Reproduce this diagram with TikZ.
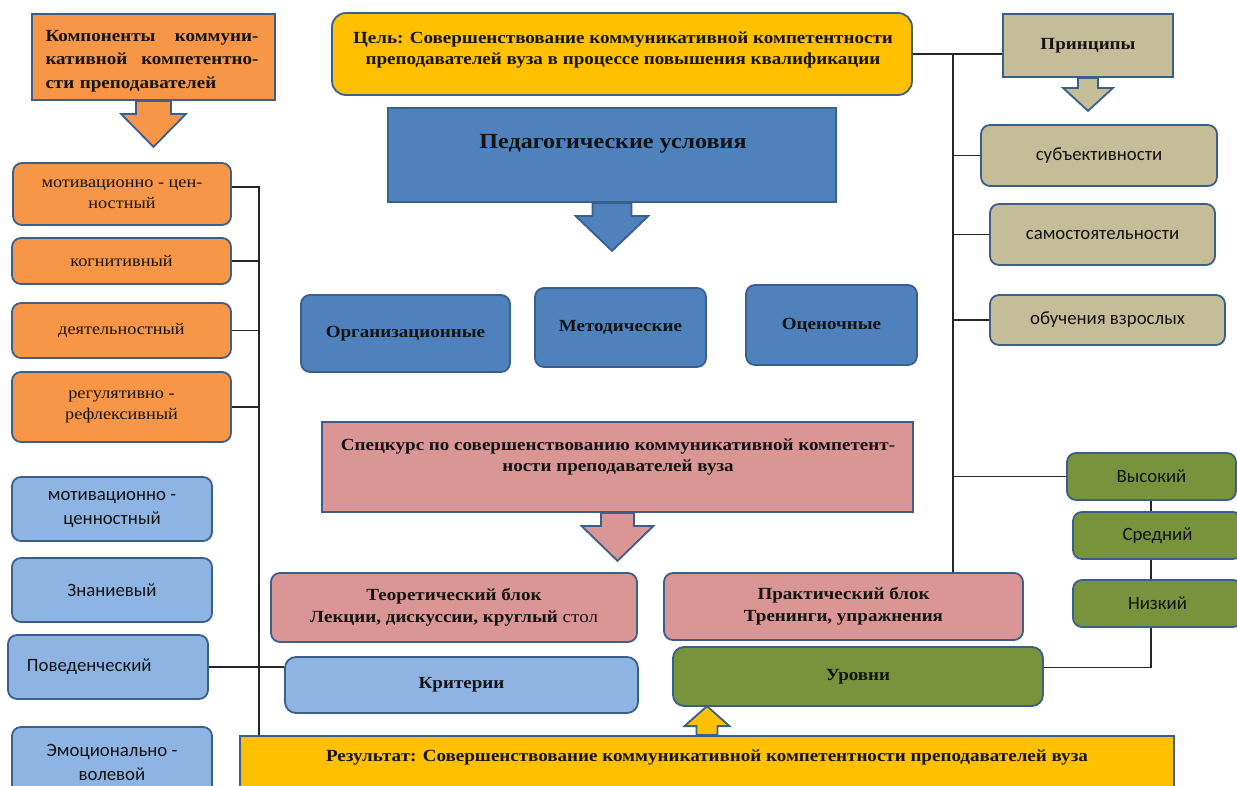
\documentclass[tikz,border=0pt]{standalone}
\usepackage{fontspec}
\setmainfont{Liberation Serif}[FakeStretch=1.12]
\newfontfamily\calib{Carlito}
\usetikzlibrary{calc,backgrounds}
\definecolor{orangeF}{HTML}{F79646}
\definecolor{goldF}{HTML}{FFC000}
\definecolor{blueD}{HTML}{4F81BD}
\definecolor{blueL}{HTML}{8EB4E3}
\definecolor{tanF}{HTML}{C4BD97}
\definecolor{pinkF}{HTML}{D99694}
\definecolor{greenF}{HTML}{77933C}
\definecolor{bordC}{HTML}{3A5F8C}
\definecolor{txtC}{HTML}{141414}
\definecolor{lineC}{HTML}{262626}
\newcommand\blkarrow[6]{%
  \path[fill=#6, draw=bordC, line width=1.8pt, line join=miter]
  ($(#1)+(-#2,0)$) -- ++(0,#4) -- ++({#2-#3},0) -- ++(#3,#5) -- ++(#3,{-1*(#5)}) -- ++({#2-#3},0) -- ++(0,{-1*(#4)}) -- cycle;}
\begin{document}
\begin{tikzpicture}[x=1pt,y=-1pt,
  box/.style={draw=bordC, line width=1.8pt, inner sep=0pt, anchor=center, text=txtC, align=center},
  rbox/.style={box, rounded corners=9pt},
  serb/.style={font=\bfseries\fontsize{17}{21.5}\selectfont},
  serr/.style={font=\fontsize{16.3}{20.5}\selectfont},
  sans/.style={font=\calib\fontsize{18.8}{24}\selectfont},
  conn/.style={draw=lineC, line width=1.1pt}]
\useasboundingbox (0,0) rectangle (1237,785);
\clip (0,0) rectangle (1237,785);

% top row
\node[box, fill=orangeF, minimum width=243pt, minimum height=86pt] (comp) at (153.5,57) {};
\node[text=txtC, align=left, text width=213pt, font=\bfseries\fontsize{17}{23.3}\selectfont] (compT) at (152,61)
  {\makebox[213pt][l]{Компоненты\hfill коммуни-}\\\makebox[213pt][l]{кативной\hfill компетентно-}\\сти преподавателей};
\node[rbox, rounded corners=14pt, fill=goldF, minimum width=580pt, minimum height=82pt] (goal) at (622,54) {};
\node[serb, text=txtC, align=center] (goalT) at (623,50)
  {Цель: Совершенствование коммуникативной компетентности\\преподавателей вуза в процессе повышения квалификации};
\node[box, fill=blueD, minimum width=448pt, minimum height=94pt] (ped) at (612,155) {};
\node[text=txtC, font=\bfseries\fontsize{21.5}{24}\selectfont] (pedT) at (613,144) {Педагогические условия};
\node[box, fill=tanF, minimum width=170pt, minimum height=63pt, serb] (prin) at (1088,45.5) {Принципы};

% principles
\node[rbox, fill=tanF, minimum width=236pt, minimum height=61pt, sans] (subj) at (1099,155.5) {субъективности};
\node[rbox, fill=tanF, minimum width=225pt, minimum height=61pt, sans] (samo) at (1102.5,234.5) {самостоятельности};
\node[rbox, fill=tanF, minimum width=235pt, minimum height=50pt, sans] (obuch) at (1107.5,320) {обучения взрослых};

% orange components
\node[rbox, fill=orangeF, minimum width=218pt, minimum height=62pt, serr] (mot) at (122,194) {мотивационно - цен-\\ностный};
\node[rbox, fill=orangeF, minimum width=219pt, minimum height=46pt, serr] (kog) at (121.5,261) {когнитивный};
\node[rbox, fill=orangeF, minimum width=219pt, minimum height=55pt, serr] (dey) at (121.5,330.5) {деятельностный};
\node[rbox, fill=orangeF, minimum width=219pt, minimum height=70pt, serr] (reg) at (121.5,407) {регулятивно -\\рефлексивный};

% conditions
\node[rbox, fill=blueD, minimum width=209pt, minimum height=77pt, serb] (org) at (405.5,333.5) {Организационные};
\node[rbox, fill=blueD, minimum width=171pt, minimum height=79pt, serb] (met) at (620.5,327.5) {Методические};
\node[rbox, fill=blueD, minimum width=171pt, minimum height=80pt, serb] (ots) at (831.5,325) {Оценочные};

% course
\node[box, fill=pinkF, minimum width=591pt, minimum height=90pt] (spec) at (617.5,467) {};
\node[serb, text=txtC, align=center] (specT) at (618,457)
  {Спецкурс по совершенствованию коммуникативной компетент-\\ности преподавателей вуза};
\node[rbox, fill=pinkF, minimum width=366pt, minimum height=69pt, font=\bfseries\fontsize{17}{22}\selectfont] (teor) at (454,607.5)
  {Теоретический блок\\Лекции, дискуссии, круглый {\mdseries стол}};
\node[rbox, fill=pinkF, minimum width=359pt, minimum height=67pt, font=\bfseries\fontsize{17}{22}\selectfont] (prak) at (843.5,606.5)
  {Практический блок\\Тренинги, упражнения};

% levels
\node[rbox, fill=greenF, minimum width=169pt, minimum height=47pt, sans] (vys) at (1151.5,476.5) {Высокий};
\node[rbox, fill=greenF, minimum width=169pt, minimum height=47pt, sans] (sred) at (1157.5,535.5) {Средний};
\node[rbox, fill=greenF, minimum width=169pt, minimum height=47pt, sans] (niz) at (1157.5,603.5) {Низкий};
\node[rbox, rounded corners=11pt, fill=greenF, minimum width=370pt, minimum height=59pt, serb] (urov) at (858,676.5) {Уровни};
\node[rbox, rounded corners=11pt, fill=blueL, minimum width=353pt, minimum height=56pt, serb] (krit) at (461.5,685) {Критерии};

% criteria (left blue)
\node[rbox, fill=blueL, minimum width=200pt, minimum height=64pt, sans] (bl1) at (112,509) {мотивационно -\\ценностный};
\node[rbox, fill=blueL, minimum width=200pt, minimum height=64pt, sans] (bl2) at (112,590) {Знаниевый};
\node[rbox, fill=blueL, minimum width=200pt, minimum height=64pt, sans, align=left, text width=162pt] (pov) at (108,667) {Поведенческий};
\node[rbox, fill=blueL, minimum width=200pt, minimum height=73pt] (emo) at (112,763.5) {};
\node[sans, text=txtC, align=center] (emoT) at (112,762) {Эмоционально -\\волевой};

% result
\node[box, fill=goldF, minimum width=934pt, minimum height=64pt] (res) at (707,768) {};
\node[serb, text=txtC] (resT) at (707,757) {Результат: Совершенствование коммуникативной компетентности преподавателей вуза};

% block arrows
\begin{pgfonlayer}{background}
\blkarrow{comp.south}{17.5}{32.5}{13}{33}{orangeF}
\blkarrow{ped.south}{19.5}{36.5}{13}{35}{blueD}
\blkarrow{prin.south}{10}{25}{10}{23}{tanF}
\blkarrow{spec.south}{16.5}{36}{13}{35}{pinkF}
\blkarrow{res.north}{10.5}{22.5}{-9}{-20}{goldF}
\end{pgfonlayer}

% connectors
\coordinate (lx) at (259,0);
\coordinate (rx) at (953,0);
\coordinate (vx) at (1151,0);
\begin{pgfonlayer}{background}
\draw[conn] (mot.east) ++(0,-7) coordinate (motc) -- (motc -| lx) -- (lx |- res.north);
\draw[conn] (kog.east) -- (kog.east -| lx);
\draw[conn] (dey.east) -- (dey.east -| lx);
\draw[conn] (reg.east) -- (reg.east -| lx);
\draw[conn] (goal.east) -- (goal.east -| prin.west);
\draw[conn] (goal.east -| rx) -- (rx |- prak.north);
\draw[conn] (subj.west -| rx) -- (subj.west);
\draw[conn] (samo.west -| rx) -- (samo.west);
\draw[conn] (obuch.west -| rx) -- (obuch.west);
\draw[conn] (vys.west -| rx) -- (vys.west);
\draw[conn] (vys.south -| vx) -- (sred.north -| vx);
\draw[conn] (sred.south -| vx) -- (niz.north -| vx);
\draw[conn] (niz.south -| vx) |- ([yshift=9pt]urov.east);
\draw[conn] (pov.east) -- (pov.east -| krit.west);
\end{pgfonlayer}
\end{tikzpicture}
\end{document}
